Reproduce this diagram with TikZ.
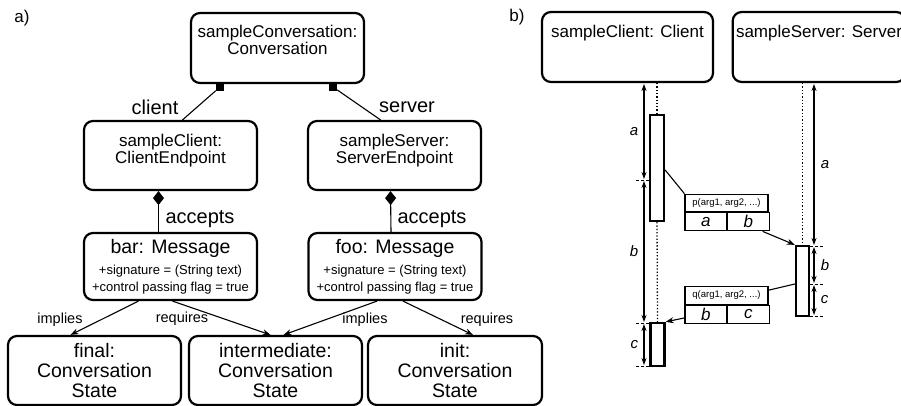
\documentclass[tikz,border=0pt]{standalone}
\usepackage{fontspec}
\setmainfont{Liberation Sans}
\usetikzlibrary{positioning,
        shapes,
        arrows.meta}

\begin{document}
\begin{tikzpicture}[x=1pt,y=-1pt,
    objbox/.style={draw,rounded corners=9,line width=2.2,minimum width=173,minimum height=69,align=center,font=\fontsize{17}{17}\selectfont},
    statebox/.style={objbox,font=\fontsize{19.5}{20}\selectfont},
    rolelbl/.style={font=\fontsize{20}{20}\selectfont},
    deplbl/.style={font=\fontsize{14.5}{15}\selectfont},
    compsq/.style={fill,rectangle,inner sep=0,minimum size=8},
    conn/.style={line width=1.1},
    dep/.style={-{Stealth[length=8,width=6]},line width=1.1},
    actbar/.style={draw,line width=2.3,inner sep=0,minimum width=14},
    life/.style={dotted,line width=1.3},
    dim/.style={{Stealth[length=7,width=5]}-{Stealth[length=7,width=5]},line width=1.1,shorten <=1,shorten >=1},
    tick/.style={densely dashed,line width=0.8},
    msghead/.style={draw,line width=1.1,minimum width=83,minimum height=17.5,inner sep=0,font=\fontsize{9.5}{10}\selectfont},
    cell/.style={draw,line width=1.1,minimum width=41.5,minimum height=18,inner sep=0,font=\fontsize{17}{17}\selectfont\itshape},
    dimlbl/.style={font=\fontsize{15}{15}\selectfont\itshape}]
  \useasboundingbox (0,0) rectangle (901,406);

  % a) object diagram
  \node [font=\fontsize{17}{17}\selectfont] (la) at (22,18) {a)};
  \node [objbox,minimum height=70] (conv) at (277.5,48) {sampleConversation:\\Conversation\\\mbox{}};
  \node [objbox] (ce) at (170.5,155.5) {sampleClient:\\ClientEndpoint\\[-3pt]\mbox{}};
  \node [objbox] (se) at (394.5,155.5) {sampleServer:\\ServerEndpoint\\[-3pt]\mbox{}};
  \node [objbox,minimum height=67] (msgbar) at (170.5,266.5) {\fontsize{19.5}{20}\selectfont bar: Message\\[4pt]
        \fontsize{13}{16}\selectfont +signature = (String text)\\\fontsize{13}{16}\selectfont +control passing flag = true};
  \node [objbox,minimum height=67] (msgfoo) at (395,266.5) {\fontsize{19.5}{20}\selectfont foo: Message\\[4pt]
        \fontsize{13}{16}\selectfont +signature = (String text)\\\fontsize{13}{16}\selectfont +control passing flag = true};
  \node [statebox] (final) at (94.5,370.5) {final:\\Conversation\\State};
  \node [statebox] (inter) at (275.5,370.5) {intermediate:\\Conversation\\State};
  \node [statebox,minimum width=174] (init) at (455,370.5) {init:\\Conversation\\State};

  \node [compsq] (sqcl) at (220,87) {};
  \node [compsq] (sqsv) at (333,87) {};
  \draw [conn] (sqcl) -- ([xshift=12]ce.north);
  \draw [conn] (sqsv) -- ([xshift=-14]se.north);
  \node [rolelbl] (lcl) at (155,107) {client};
  \node [rolelbl] (lsv) at (407,107) {server};

  \draw [conn,{Diamond[length=14,width=11]}-] ([xshift=-12]ce.south) -- ([xshift=-12]msgbar.north);
  \draw [conn,{Diamond[length=14,width=11]}-] ([xshift=-4]se.south) -- ([xshift=-4]msgfoo.north);
  \node [rolelbl] (acl) at (200,219) {accepts};
  \node [rolelbl] (asv) at (432,219) {accepts};

  \draw [dep] ([xshift=-32]msgbar.south) -- ([xshift=-24]final.north);
  \draw [dep] ([xshift=2]msgbar.south) -- ([xshift=-5]inter.north);
  \draw [dep] ([xshift=-18]msgfoo.south) -- ([xshift=8]inter.north);
  \draw [dep] ([xshift=8]msgfoo.south) -- ([xshift=18]init.north);
  \node [deplbl] (imp1) at (60,320) {implies};
  \node [deplbl] (req1) at (182,319) {requires};
  \node [deplbl] (imp2) at (365,320) {implies};
  \node [deplbl] (req2) at (487,320) {requires};

  % b) sequence with durations
  \node [font=\fontsize{17}{17}\selectfont] (lb) at (517,17) {b)};
  \node [objbox,minimum width=171,minimum height=70] (cl) at (627.5,47) {sampleClient: Client\\[14pt]\mbox{}};
  \node [objbox,minimum width=172,minimum height=70] (sv) at (819,47) {sampleServer: Server\\[14pt]\mbox{}};

  \node [actbar,minimum height=106] (cb1) at (657,168) {};
  \node [actbar,minimum height=43] (cb2) at (657.5,344.5) {};
  \node [actbar,minimum width=13,minimum height=70] (sb) at (802.5,281) {};

  \draw [life] (cl.south -| cb1.north) -- (cb1.north);
  \draw [life] (cb1.south) -- (cb2.north);
  \draw [life] (sv.south -| sb.north) -- (sb.north);

  \node [msghead] (pmsg) at (726.5,203) {p(arg1, arg2, ...)};
  \node [cell,below right=0 of pmsg.south west] (pa) {a};
  \node [cell,right=0 of pa] (pb) {b};
  \node [msghead] (qmsg) at (726.5,295.5) {q(arg1, arg2, ...)};
  \node [cell,below right=0 of qmsg.south west] (qb) {b};
  \node [cell,right=0 of qb] (qc) {c};

  \draw [conn] ([yshift=-2]cb1.east) -- (pmsg.north west);
  \draw [dep] ([xshift=-7]pb.south east) -- (sb.north west);
  \draw [conn] ([yshift=-3]sb.west) -- ([yshift=-4]qmsg.north east);
  \draw [dep] ([yshift=6]qb.south west) -- (cb2.north east);

  % durations
  \coordinate (cd0) at (644,83);
  \coordinate (cd1) at (644,180);
  \coordinate (cd2) at (644,323);
  \coordinate (cd3) at (644,366);
  \draw [dim] (cd0) -- node [dimlbl,left=2] {a} (cd1);
  \draw [dim] (cd1) -- node [dimlbl,left=2] {b} (cd2);
  \draw [dim] (cd2) -- node [dimlbl,left=2] {c} (cd3);
  \draw [tick] ([xshift=-8]cd1) -- (cd1 -| cb1.west);
  \draw [tick] ([xshift=-8]cd2) -- (cd2 -| cb2.west);
  \draw [tick] ([xshift=-8]cd3) -- (cd3 -| cb2.west);

  \coordinate (sd0) at (814,83);
  \coordinate (sd1) at (814,246);
  \coordinate (sd2) at (814,284);
  \coordinate (sd3) at (814,316);
  \draw [dim] (sd0) -- node [dimlbl,right=3] {a} (sd1);
  \draw [dim] (sd1) -- node [dimlbl,right=3] {b} (sd2);
  \draw [dim] (sd2) -- node [dimlbl,right=3] {c} (sd3);
  \draw [tick] (sd1 -| sb.east) -- ([xshift=9]sd1);
  \draw [tick] (sd2 -| sb.east) -- ([xshift=9]sd2);
  \draw [tick] (sd3 -| sb.east) -- ([xshift=9]sd3);
\end{tikzpicture}
\end{document}
